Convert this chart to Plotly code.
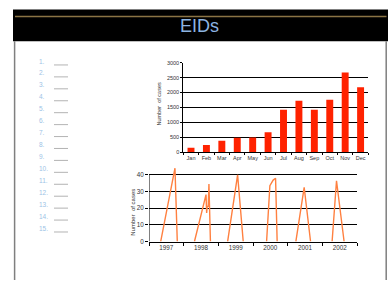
import plotly.graph_objects as go

W, H = 388, 283

# ---- data ----
months = ["Jan", "Feb", "Mar", "Apr", "May", "Jun", "Jul", "Aug", "Sep", "Oct", "Nov", "Dec"]
monthly_cases = [142, 241, 383, 482, 493, 668, 1424, 1720, 1424, 1753, 2673, 2180]

year_labels = ["1997", "1998", "1999", "2000", "2001", "2002"]
year_centers = [1997.5, 1998.5, 1999.5, 2000.5, 2001.5, 2002.5]
year_bounds = [1997, 1998, 1999, 2000, 2001, 2002, 2003]

season_t = [1997.337, 1997.749, 1997.816, None,
            1998.311, 1998.645, 1998.663, 1998.680, 1998.709, 1998.729, 1998.772, None,
            1999.268, 1999.556, 1999.718, None,
            2000.392, 2000.487, 2000.582, 2000.651, 2000.697, None,
            2001.236, 2001.476, 2001.660, None,
            2002.282, 2002.409, 2002.628]
season_cases = [0, 43.8, 0, None,
                0, 28, 17, 21, 21, 34.3, 0, None,
                0, 39.8, 0, None,
                0, 33.3, 36.7, 37.8, 0, None,
                0, 32.4, 0, None,
                0, 36.3, 0]

list_labels = ["1.", "2.", "3.", "4.", "5.", "6.", "7.", "8.", "9.", "10.",
               "11.", "12.", "13.", "14.", "15."]

FONT = "Liberation Sans, Arial, sans-serif"


def px(x):
    return x / W


def py(y):
    return 1 - y / H


fig = go.Figure()

fig.add_trace(go.Bar(x=months, y=monthly_cases, marker_color="#FF2200",
                     marker_line_width=0, xaxis="x", yaxis="y", showlegend=False))

fig.add_trace(go.Scatter(x=season_t, y=season_cases, mode="lines",
                         line=dict(color="#FF8040", width=1.4),
                         connectgaps=False, xaxis="x2", yaxis="y2", showlegend=False))

shapes = []
# header
shapes.append(dict(type="rect", xref="paper", yref="paper", x0=px(13), x1=1,
                   y0=py(39), y1=py(6.7), fillcolor="black", line_width=0, layer="below"))
shapes.append(dict(type="line", xref="paper", yref="paper", x0=px(15), x1=px(386.5),
                   y0=py(13.8), y1=py(13.8), line=dict(color="#8B7445", width=1.5)))
# side frame lines
for xx in (14.6, 386.2):
    shapes.append(dict(type="line", xref="paper", yref="paper", x0=px(xx), x1=px(xx),
                       y0=py(39), y1=0, line=dict(color="#7F7F7F", width=1.5)))
# bottom chart y axis line up to 40
shapes.append(dict(type="line", xref="x2", yref="y2", x0=1997, x1=1997, y0=0, y1=40,
                   line=dict(color="black", width=1)))

annotations = []
annotations.append(dict(text="EIDs", xref="paper", yref="paper", x=px(200), y=py(24),
                        showarrow=False, xanchor="center", yanchor="middle",
                        font=dict(family=FONT, size=18, color="#8DB4E2")))
for i, lab in enumerate(list_labels):
    annotations.append(dict(text=lab, xref="paper", yref="paper", x=px(36.5),
                            y=py(59.3 + 12.2 * i), showarrow=False,
                            xanchor="left", yanchor="middle",
                            font=dict(family=FONT, size=6.5, color="#9DC3E6")))
    yl = 63.3 + 12.19 * i
    shapes.append(dict(type="line", xref="paper", yref="paper", x0=px(54), x1=px(68),
                       y0=py(yl), y1=py(yl), line=dict(color="#A0A0A0", width=0.8)))

annotations.append(dict(text="Number  of cases", xref="paper", yref="paper",
                        x=px(159.3), y=py(103.3), textangle=-90, showarrow=False,
                        xanchor="center", yanchor="middle",
                        font=dict(family=FONT, size=5.5, color="#333")))
annotations.append(dict(text="Number  of cases", xref="paper", yref="paper",
                        x=px(133.3), y=py(214), textangle=-90, showarrow=False,
                        xanchor="center", yanchor="middle",
                        font=dict(family=FONT, size=6, color="#333")))

fig.update_layout(
    width=W, height=H, margin=dict(l=0, r=0, t=0, b=0),
    paper_bgcolor="white", plot_bgcolor="white",
    bargap=0.55,
    font=dict(family=FONT, size=6, color="#333"),
    shapes=shapes, annotations=annotations,
    xaxis=dict(domain=[px(183.3), px(368.3)], anchor="y", type="category",
               showline=True, linecolor="black", linewidth=1, tickangle=0,
               ticks="outside", ticklen=2, tickcolor="black", tickson="boundaries",
               tickfont=dict(size=5.5), showgrid=False, fixedrange=True),
    yaxis=dict(domain=[py(152.3), py(61)], anchor="x", range=[0, 3000], dtick=500,
               showgrid=True, gridcolor="black", gridwidth=1, zeroline=False,
               showline=True, linecolor="black", linewidth=1,
               ticks="outside", ticklen=2, tickcolor="black",
               tickfont=dict(size=5.5)),
    xaxis2=dict(domain=[px(149), px(357)], anchor="y2", range=[1997, 2003],
                tickmode="array", tickvals=year_centers, ticktext=year_labels,
                ticks="", showline=True, linecolor="black", linewidth=1, tickangle=0,
                showgrid=False, zeroline=False, tickfont=dict(size=6.3),
                minor=dict(tickmode="array", tickvals=year_bounds, ticks="outside",
                           ticklen=3, tickcolor="black", showgrid=False)),
    yaxis2=dict(domain=[py(243.7), py(165)], anchor="x2", range=[0, 46],
                tickmode="array", tickvals=[0, 10, 20, 30, 40],
                showgrid=True, gridcolor="black", gridwidth=1, zeroline=False,
                showline=False, ticks="outside", ticklen=3, tickcolor="black",
                tickfont=dict(size=6.3)),
)

fig.write_html("out.html",
               config={"displayModeBar": False},
               post_script="document.body.style.margin='0';"
                           "document.body.style.padding='0';"
                           "document.body.style.overflow='hidden';")
